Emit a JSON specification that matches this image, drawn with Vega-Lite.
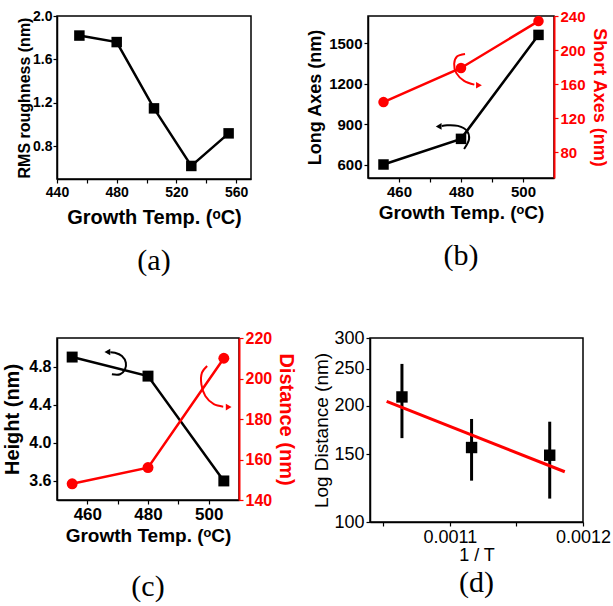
{
  "$schema": "https://vega.github.io/schema/vega-lite/v6.json",
  "padding": {"left": 2, "top": 8, "right": 5, "bottom": 5},
  "background": "white",
  "config": {
    "view": {"stroke": "black", "strokeWidth": 1.5},
    "axis": {"domainColor": "black", "domainWidth": 1.5, "tickColor": "black", "tickWidth": 1.2, "tickSize": 4, "labelColor": "black", "titleColor": "black", "grid": false, "labelFont": "Liberation Sans", "titleFont": "Liberation Sans", "labelFontWeight": "bold", "titleFontWeight": "bold", "labelFontSize": 14, "titleFontSize": 18, "labelFlush": false},
    "title": {"font": "Liberation Serif", "fontSize": 30, "fontWeight": "normal", "color": "black"}
  },
  "datasets": {
    "a": [
      {"t": 455, "rms": 1.82},
      {"t": 480, "rms": 1.76},
      {"t": 505, "rms": 1.15},
      {"t": 530, "rms": 0.62},
      {"t": 555, "rms": 0.92}
    ],
    "b": [
      {"t": 455, "long": 600, "short": 139},
      {"t": 480, "long": 790, "short": 179},
      {"t": 505, "long": 1560, "short": 234}
    ],
    "barrowk": [
      {"i": 1, "t": 481.0, "long": 715},
      {"i": 2, "t": 482.6, "long": 790},
      {"i": 3, "t": 481.9, "long": 850},
      {"i": 4, "t": 479.0, "long": 886},
      {"i": 5, "t": 475.5, "long": 891},
      {"i": 6, "t": 473.8, "long": 885}
    ],
    "bheadk": [{"t": 472.8, "long": 882}],
    "barrowr": [
      {"i": 1, "t": 481.3, "short": 195.5},
      {"i": 2, "t": 478.7, "short": 192.5},
      {"i": 3, "t": 477.8, "short": 184},
      {"i": 4, "t": 478.5, "short": 173},
      {"i": 5, "t": 481.0, "short": 164},
      {"i": 6, "t": 484.3, "short": 159.5}
    ],
    "bheadr": [{"t": 485.8, "short": 158.8}],
    "c": [
      {"t": 455, "h": 4.9, "d": 148},
      {"t": 480, "h": 4.7, "d": 156},
      {"t": 505, "h": 3.6, "d": 210}
    ],
    "carrowk": [
      {"i": 1, "t": 468.1, "h": 4.72},
      {"i": 2, "t": 470.8, "h": 4.72},
      {"i": 3, "t": 472.4, "h": 4.77},
      {"i": 4, "t": 472.7, "h": 4.84},
      {"i": 5, "t": 471.4, "h": 4.91},
      {"i": 6, "t": 469.1, "h": 4.945},
      {"i": 7, "t": 467.6, "h": 4.95}
    ],
    "cheadk": [{"t": 466.6, "h": 4.953}],
    "carrowr": [
      {"i": 1, "t": 499.5, "d": 206.2},
      {"i": 2, "t": 497.8, "d": 202.9},
      {"i": 3, "t": 497.6, "d": 197.1},
      {"i": 4, "t": 498.9, "d": 191.4},
      {"i": 5, "t": 501.7, "d": 187.3},
      {"i": 6, "t": 504.8, "d": 186.1}
    ],
    "cheadr": [{"t": 506.6, "d": 185.9}],
    "d": [
      {"x": 0.001064, "y": 211, "lo": 165, "hi": 257},
      {"x": 0.0011163, "y": 156, "lo": 128, "hi": 185},
      {"x": 0.001175, "y": 149, "lo": 115, "hi": 182}
    ],
    "dfit": [
      {"x": 0.0010525, "y": 205.5},
      {"x": 0.0011863, "y": 135}
    ]
  },
  "spacing": 51,
  "vconcat": [
    {
      "spacing": 53,
      "hconcat": [
        {
          "width": 194, "height": 163,
          "title": {"text": "(a)", "orient": "bottom", "offset": 19},
          "data": {"name": "a"},
          "encoding": {
            "x": {"field": "t", "type": "quantitative", "scale": {"domain": [440, 570], "nice": false, "zero": false},
              "axis": {"values": [440, 460, 480, 500, 520, 540, 560], "labelExpr": "datum.value % 40 == 0 ? datum.label : ''", "title": "Growth Temp. (ᵒC)", "titleFontSize": 20, "titlePadding": 8}},
            "y": {"field": "rms", "type": "quantitative", "scale": {"domain": [0.5, 2.0], "nice": false, "zero": false},
              "axis": {"values": [0.8, 1.2, 1.6, 2.0], "format": ".1f", "title": "RMS roughness (nm)", "titleFontSize": 16, "titlePadding": 0, "labelPadding": 1}}
          },
          "layer": [
            {"mark": {"type": "line", "color": "black", "strokeWidth": 2.5}},
            {"mark": {"type": "point", "shape": "square", "filled": true, "size": 110, "color": "black", "opacity": 1}}
          ]
        },
        {
          "width": 186, "height": 162,
          "title": {"text": "(b)", "orient": "bottom", "offset": 19},
          "data": {"name": "b"},
          "encoding": {
            "x": {"field": "t", "type": "quantitative", "scale": {"domain": [450, 510], "nice": false, "zero": false},
              "axis": {"values": [460, 470, 480, 490, 500], "labelExpr": "datum.value % 20 == 0 ? datum.label : ''", "title": "Growth Temp. (ᵒC)", "titleFontSize": 19, "labelFontSize": 15}}
          },
          "layer": [
            {
              "encoding": {
                "y": {"field": "long", "type": "quantitative", "scale": {"domain": [500, 1700], "nice": false, "zero": false},
                  "axis": {"values": [600, 900, 1200, 1500], "format": "d", "title": "Long Axes (nm)", "labelFontSize": 15}}
              },
              "layer": [
                {"mark": {"type": "line", "color": "black", "strokeWidth": 2.5}},
                {"mark": {"type": "point", "shape": "square", "filled": true, "size": 110, "color": "black", "opacity": 1}},
                {"data": {"name": "barrowk"}, "mark": {"type": "line", "color": "black", "strokeWidth": 2, "interpolate": "catmull-rom"}, "encoding": {"order": {"field": "i", "type": "quantitative"}}},
                {"data": {"name": "bheadk"}, "mark": {"type": "point", "shape": "triangle-left", "filled": true, "size": 45, "color": "black", "opacity": 1}}
              ]
            },
            {
              "encoding": {
                "y": {"field": "short", "type": "quantitative", "scale": {"domain": [50, 240], "nice": false, "zero": false},
                  "axis": {"orient": "right", "values": [80, 120, 160, 200, 240], "title": "Short Axes (nm)", "labelFontSize": 15, "domainColor": "#ff0000", "tickColor": "#ff0000", "labelColor": "#ff0000", "titleColor": "#ff0000", "domainWidth": 2}}
              },
              "layer": [
                {"mark": {"type": "line", "color": "#ff0000", "strokeWidth": 2.5}},
                {"mark": {"type": "point", "shape": "circle", "filled": true, "size": 110, "color": "#ff0000", "opacity": 1}},
                {"data": {"name": "barrowr"}, "mark": {"type": "line", "color": "#ff0000", "strokeWidth": 2, "interpolate": "catmull-rom"}, "encoding": {"order": {"field": "i", "type": "quantitative"}}},
                {"data": {"name": "bheadr"}, "mark": {"type": "point", "shape": "triangle-right", "filled": true, "size": 45, "color": "#ff0000", "opacity": 1}}
              ]
            }
          ],
          "resolve": {"scale": {"y": "independent"}}
        }
      ]
    },
    {
      "spacing": 15,
      "hconcat": [
        {
          "width": 182, "height": 162,
          "title": {"text": "(c)", "orient": "bottom", "offset": 27},
          "data": {"name": "c"},
          "encoding": {
            "x": {"field": "t", "type": "quantitative", "scale": {"domain": [450, 510], "nice": false, "zero": false},
              "axis": {"values": [460, 470, 480, 490, 500], "labelExpr": "datum.value % 20 == 0 ? datum.label : ''", "title": "Growth Temp. (ᵒC)", "titleFontSize": 19, "labelFontSize": 17}}
          },
          "layer": [
            {
              "encoding": {
                "y": {"field": "h", "type": "quantitative", "scale": {"domain": [3.4, 5.1], "nice": false, "zero": false},
                  "axis": {"values": [3.6, 4.0, 4.4, 4.8], "format": ".1f", "title": "Height (nm)", "titleFontSize": 20, "labelFontSize": 16, "titlePadding": 6}}
              },
              "layer": [
                {"mark": {"type": "line", "color": "black", "strokeWidth": 2.5}},
                {"mark": {"type": "point", "shape": "square", "filled": true, "size": 120, "color": "black", "opacity": 1}},
                {"data": {"name": "carrowk"}, "mark": {"type": "line", "color": "black", "strokeWidth": 2, "interpolate": "catmull-rom"}, "encoding": {"order": {"field": "i", "type": "quantitative"}}},
                {"data": {"name": "cheadk"}, "mark": {"type": "point", "shape": "triangle-left", "filled": true, "size": 45, "color": "black", "opacity": 1}}
              ]
            },
            {
              "encoding": {
                "y": {"field": "d", "type": "quantitative", "scale": {"domain": [140, 220], "nice": false, "zero": false},
                  "axis": {"orient": "right", "values": [140, 160, 180, 200, 220], "title": "Distance (nm)", "titleFontSize": 20, "labelFontSize": 16, "domainColor": "#ff0000", "tickColor": "#ff0000", "labelColor": "#ff0000", "titleColor": "#ff0000", "domainWidth": 2}}
              },
              "layer": [
                {"mark": {"type": "line", "color": "#ff0000", "strokeWidth": 2.5}},
                {"mark": {"type": "point", "shape": "circle", "filled": true, "size": 120, "color": "#ff0000", "opacity": 1}},
                {"data": {"name": "carrowr"}, "mark": {"type": "line", "color": "#ff0000", "strokeWidth": 2, "interpolate": "catmull-rom"}, "encoding": {"order": {"field": "i", "type": "quantitative"}}},
                {"data": {"name": "cheadr"}, "mark": {"type": "point", "shape": "triangle-right", "filled": true, "size": 45, "color": "#ff0000", "opacity": 1}}
              ]
            }
          ],
          "resolve": {"scale": {"y": "independent"}}
        },
        {
          "width": 213, "height": 184,
          "title": {"text": "(d)", "orient": "bottom", "offset": 4},
          "layer": [
            {
              "data": {"name": "d"},
              "mark": {"type": "rule", "color": "black", "strokeWidth": 3},
              "encoding": {
                "x": {"field": "x", "type": "quantitative", "scale": {"domain": [0.00104, 0.0012], "nice": false, "zero": false},
                  "axis": {"values": [0.00105, 0.0011, 0.00115, 0.0012], "labelExpr": "round(datum.value * 100000) % 10 == 0 ? format(datum.value, '.4f') : ''", "title": "1 / T", "labelFontWeight": "normal", "titleFontWeight": "normal", "labelFontSize": 18, "titleFontSize": 18, "titlePadding": 0}},
                "y": {"field": "lo", "type": "quantitative", "scale": {"type": "log", "domain": [100, 300], "nice": false, "zero": false},
                  "axis": {"values": [100, 150, 200, 250, 300], "format": "d", "title": "Log Distance (nm)", "labelFontWeight": "normal", "titleFontWeight": "normal", "labelFontSize": 18, "titleFontSize": 19, "titlePadding": 2}},
                "y2": {"field": "hi"}
              }
            },
            {
              "data": {"name": "d"},
              "mark": {"type": "point", "shape": "square", "filled": true, "size": 130, "color": "black", "opacity": 1},
              "encoding": {
                "x": {"field": "x", "type": "quantitative", "scale": {"domain": [0.00104, 0.0012], "nice": false, "zero": false}},
                "y": {"field": "y", "type": "quantitative", "scale": {"type": "log", "domain": [100, 300], "nice": false, "zero": false}}
              }
            },
            {
              "data": {"name": "dfit"},
              "mark": {"type": "line", "color": "#ff0000", "strokeWidth": 3},
              "encoding": {
                "x": {"field": "x", "type": "quantitative", "scale": {"domain": [0.00104, 0.0012], "nice": false, "zero": false}},
                "y": {"field": "y", "type": "quantitative", "scale": {"type": "log", "domain": [100, 300], "nice": false, "zero": false}}
              }
            }
          ]
        }
      ]
    }
  ]
}
